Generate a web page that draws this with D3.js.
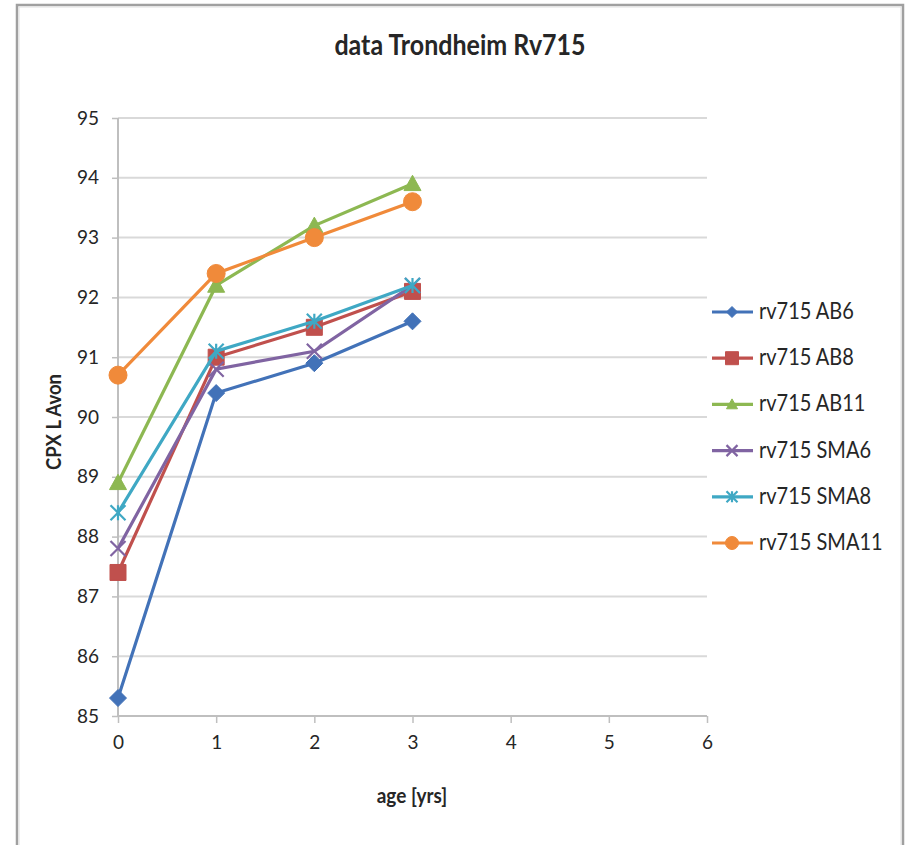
<!DOCTYPE html>
<html><head><meta charset="utf-8">
<script src="https://cdn.jsdelivr.net/npm/d3@7"></script>
<style>
body{margin:0;background:#fff;}
text{font-family:Lato,"Open Sans",sans-serif;fill:#262626;}
</style></head>
<body><svg id="c" width="907" height="845"></svg>
<script>
const title = "data Trondheim Rv715";
const xLabel = "age [yrs]";
const yLabel = "CPX L Avon";
const ages = [0, 1, 2, 3];
const xTicks = [0, 1, 2, 3, 4, 5, 6];
const yTicks = [85, 86, 87, 88, 89, 90, 91, 92, 93, 94, 95];
const seriesNames = ["rv715 AB6", "rv715 AB8", "rv715 AB11", "rv715 SMA6", "rv715 SMA8", "rv715 SMA11"];
const ab6 = [85.3, 90.4, 90.9, 91.6];
const ab8 = [87.4, 91.0, 91.5, 92.1];
const ab11 = [88.9, 92.2, 93.2, 93.9];
const sma6 = [87.8, 90.8, 91.1, 92.2];
const sma8 = [88.4, 91.1, 91.6, 92.2];
const sma11 = [90.7, 92.4, 93.0, 93.6];
const seriesValues = [ab6, ab8, ab11, sma6, sma8, sma11];
const colors = ["#4272B8", "#C0504D", "#8DB852", "#8064A2", "#3FA8C4", "#F08A3A"];
const markers = ["diamond", "square", "triangle", "x", "star", "circle"];

const svg = d3.select("#c");
// outer frame
svg.append("path").attr("d","M17,846 V5 H903 V846").attr("fill","none").attr("stroke","#a0a0a0").attr("stroke-width",2.5);
svg.append("path").attr("d","M19,846 V7 H901 V846").attr("fill","none").attr("stroke","#e0e0e0").attr("stroke-width",1);

const x = d3.scaleLinear().domain([0,6]).range([118,707]);
const y = d3.scaleLinear().domain([85,95]).range([716,118]);

// gridlines
svg.append("g").selectAll("line").data(yTicks).join("line")
  .attr("x1",x(0)).attr("x2",x(6)).attr("y1",d=>y(d)).attr("y2",d=>y(d))
  .attr("stroke","#d9d9d9").attr("stroke-width",2);

// y axis
const ya = svg.append("g").attr("transform",`translate(${x(0)},0)`)
  .call(d3.axisLeft(y).tickValues(yTicks).tickSize(6).tickPadding(13).tickFormat(d3.format("d")));
ya.select(".domain").attr("stroke","#bfbfbf").attr("stroke-width",2).attr("d",`M0,${y(85)}V${y(95)}`);
ya.selectAll(".tick line").attr("stroke","#bfbfbf").attr("stroke-width",1.5);
ya.selectAll(".tick text").attr("font-size",19).attr("fill","#262626").style("font-family","Lato,sans-serif");

// x axis
const xa = svg.append("g").attr("transform",`translate(0,${y(85)})`)
  .call(d3.axisBottom(x).tickValues(xTicks).tickSize(7).tickPadding(13).tickFormat(d3.format("d")));
xa.select(".domain").attr("stroke","#bfbfbf").attr("stroke-width",2).attr("d",`M${x(0)},0H${x(6)}`);
xa.selectAll(".tick line").attr("stroke","#bfbfbf").attr("stroke-width",1.5);
xa.selectAll(".tick text").attr("font-size",19).attr("fill","#262626").style("font-family","Lato,sans-serif");

function markerPath(type, s){
  const h = s/2;
  switch(type){
    case "diamond": return `M0,${-h}L${h},0L0,${h}L${-h},0Z`;
    case "square": return `M${-h},${-h}H${h}V${h}H${-h}Z`;
    case "triangle": return `M0,${-h}L${h},${h*0.8}L${-h},${h*0.8}Z`;
    case "x": return `M${-h},${-h}L${h},${h}M${-h},${h}L${h},${-h}`;
    case "star": return `M${-h},${-h}L${h},${h}M${-h},${h}L${h},${-h}M0,${-h}V${h}`;
    case "circle": return d3.symbol(d3.symbolCircle, Math.PI*h*h)();
  }
}
function drawMarker(g, type, color, s){
  const filled = !(type==="x"||type==="star");
  g.append("path").attr("d",markerPath(type,s))
    .attr("fill",filled?color:"none").attr("stroke",color).attr("stroke-width",filled?1:2.2);
}
const mSize = {diamond:17, square:16, triangle:17, x:15, star:15, circle:18};
const lSize = {diamond:11, square:13, triangle:11, x:11, star:11, circle:13};

const line = d3.line().x((d,i)=>x(ages[i])).y(d=>y(d));
seriesValues.forEach((vals,k)=>{
  const g = svg.append("g");
  g.append("path").datum(vals).attr("d",line).attr("fill","none").attr("stroke",colors[k]).attr("stroke-width",3.2);
  vals.forEach((v,i)=>{
    const mg = g.append("g").attr("transform",`translate(${x(ages[i])},${y(v)})`);
    drawMarker(mg, markers[k], colors[k], mSize[markers[k]]);
  });
});

// legend
const legY = d3.scaleLinear().domain([0,5]).range([312,543]);
seriesNames.forEach((n,k)=>{
  const g = svg.append("g").attr("transform",`translate(0,${legY(k)})`);
  g.append("line").attr("x1",712).attr("x2",753).attr("stroke",colors[k]).attr("stroke-width",3.2);
  const mg = g.append("g").attr("transform","translate(732,0)");
  drawMarker(mg, markers[k], colors[k], lSize[markers[k]]);
  g.append("text").attr("transform","translate(759,7) scale(1,1.12)").attr("font-size",20).text(n);
});

// title & labels
svg.append("text").attr("transform","translate(460,55) scale(1,1.15)").attr("text-anchor","middle")
  .attr("font-size",25).attr("font-weight","bold").text(title);
svg.append("text").attr("transform","translate(412,803) scale(1,1.12)").attr("text-anchor","middle")
  .attr("font-size",19).attr("font-weight","bold").text(xLabel);
svg.append("text").attr("transform","translate(61,422) rotate(-90) scale(1,1.1)").attr("text-anchor","middle")
  .attr("font-size",18.5).attr("font-weight","bold").text(yLabel);
</script></body></html>
